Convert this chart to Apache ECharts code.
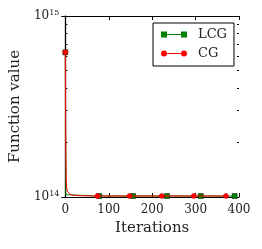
<!DOCTYPE html>
<html>
<head>
<meta charset="utf-8">
<script src="https://cdn.jsdelivr.net/npm/echarts@6/dist/echarts.min.js"></script>
<style>html,body{margin:0;padding:0;background:#fff}#c{width:262px;height:249px}</style>
</head>
<body>
<div id="c"></div>
<script>
// ---- data ----
const LCG_ITER  = [0, 1, 2, 4, 78, 156, 234, 312, 390];
const LCG_VALUE = [6.3e14, 1.03e14, 1.016e14, 1.012e14, 1.012e14, 1.012e14, 1.012e14, 1.012e14, 1.012e14];
const LCG_MARKS = [0, 78, 156, 234, 312, 390];

const CG_ITER  = [0, 1, 2, 3, 5, 8, 11, 16, 23, 40, 74, 148, 222, 296, 370];
const CG_VALUE = [6.3e14, 1.75e14, 1.24e14, 1.12e14, 1.07e14, 1.045e14, 1.035e14, 1.026e14, 1.02e14, 1.016e14, 1.014e14, 1.014e14, 1.014e14, 1.014e14, 1.014e14];
const CG_MARKS = [0, 74, 148, 222, 296, 370];

const X_TICKS = [0, 100, 200, 300, 400];
const Y_MAJOR = [1e14, 1e15];
const Y_MINOR = [2e14, 3e14, 4e14, 5e14, 6e14, 7e14, 8e14, 9e14];

const FONT = 'DejaVu Serif';
const TXT = '#222';

function pairs(xs, ys) { return xs.map((x, i) => [x, ys[i]]); }
function markSym(marks, shape) {
  return function (value) { return marks.indexOf(value[0]) >= 0 ? shape : 'none'; };
}
const minorLog = Y_MINOR.map(v => Math.log10(v));
const majorLog = Y_MAJOR.map(v => Math.log10(v));

const chart = echarts.init(document.getElementById('c'), null, {renderer: 'canvas'});

function supLabel(v) {
  const e = Math.round(Math.log10(v));
  return '{b|10}{s|' + e + '}';
}

const tickAxisBase = {
  type: 'value', min: majorLog[0], max: majorLog[1],
  axisLine: {show: false}, axisLabel: {show: false}, splitLine: {show: false},
  axisTick: {show: true, inside: true, length: 2, lineStyle: {color: '#000', width: 1}, customValues: minorLog}
};

chart.setOption({
  animation: false,
  backgroundColor: '#fff',
  grid: {left: 65, right: 23, top: 16, bottom: 52, containLabel: false},
  legend: {
    orient: 'vertical', left: 153, top: 23,
    padding: [5, 7, 6, 8],
    itemWidth: 26, itemHeight: 7, itemGap: 6,
    borderColor: '#000', borderWidth: 1, backgroundColor: '#fff',
    itemStyle: {borderWidth: 0},
    textStyle: {fontFamily: FONT, fontSize: 13, color: TXT, padding: [0, 0, 0, 6]},
    data: [
      {name: 'LCG', icon: 'path://M0,0h6v6h-6z M6,2.6h14v0.8h-14z M20,0h6v6h-6z'},
      {name: 'CG', icon: 'path://M0,3a3,3 0 1,0 6,0a3,3 0 1,0 -6,0z M6,2.6h14v0.8h-14z M20,3a3,3 0 1,0 6,0a3,3 0 1,0 -6,0z'}
    ]
  },
  xAxis: [
    {
      type: 'value', min: 0, max: 400, interval: 100, position: 'bottom',
      name: 'Iterations', nameLocation: 'middle', nameGap: 24,
      nameTextStyle: {fontFamily: FONT, fontSize: 15, color: TXT},
      axisLine: {show: true, lineStyle: {color: '#000', width: 1.2}},
      axisTick: {show: true, inside: true, length: 4, lineStyle: {color: '#000'}},
      axisLabel: {fontFamily: FONT, fontSize: 12, color: TXT, margin: 7},
      splitLine: {show: false}
    },
    {
      type: 'value', min: 0, max: 400, interval: 100, position: 'top',
      axisLine: {show: true, lineStyle: {color: '#000', width: 1.2}},
      axisTick: {show: true, inside: true, length: 4, lineStyle: {color: '#000'}},
      axisLabel: {show: false}, splitLine: {show: false}
    }
  ],
  yAxis: [
    {
      type: 'log', logBase: 10, min: Y_MAJOR[0], max: Y_MAJOR[1], position: 'left',
      name: 'Function value', nameLocation: 'middle', nameGap: 41,
      nameTextStyle: {fontFamily: FONT, fontSize: 15, color: TXT},
      axisLine: {show: true, lineStyle: {color: '#555', width: 1.2}},
      axisTick: {show: true, inside: true, length: 4, lineStyle: {color: '#000'}},
      axisLabel: {
        margin: 6, formatter: supLabel,
        rich: {
          b: {fontFamily: FONT, fontSize: 12, color: TXT},
          s: {fontFamily: FONT, fontSize: 8, color: TXT, verticalAlign: 'top', padding: [0, 0, 7, 0]}
        }
      },
      splitLine: {show: false}
    },
    {
      type: 'log', logBase: 10, min: Y_MAJOR[0], max: Y_MAJOR[1], position: 'right',
      axisLine: {show: true, lineStyle: {color: '#000', width: 1.2}},
      axisTick: {show: true, inside: true, length: 4, lineStyle: {color: '#000'}},
      axisLabel: {show: false}, splitLine: {show: false}
    },
    Object.assign({}, tickAxisBase, {position: 'left'}),
    Object.assign({}, tickAxisBase, {position: 'right'})
  ],
  series: [
    {
      name: 'LCG', type: 'line', xAxisIndex: 0, yAxisIndex: 0,
      data: pairs(LCG_ITER, LCG_VALUE),
      showAllSymbol: true, symbol: markSym(LCG_MARKS, 'rect'), symbolSize: 5,
      color: '#008000',
      lineStyle: {color: '#008000', width: 1},
      itemStyle: {color: '#008000', borderColor: '#002200', borderWidth: 0.6},
      clip: true, z: 2
    },
    {
      name: 'CG', type: 'line', xAxisIndex: 0, yAxisIndex: 0,
      data: pairs(CG_ITER, CG_VALUE),
      showAllSymbol: true, symbol: markSym(CG_MARKS, 'circle'), symbolSize: 5,
      color: '#ff0000',
      lineStyle: {color: '#ff0000', width: 1},
      itemStyle: {color: '#ff0000', borderColor: '#cc0000', borderWidth: 0.5},
      clip: true, z: 3
    }
  ]
});
</script>
</body>
</html>
